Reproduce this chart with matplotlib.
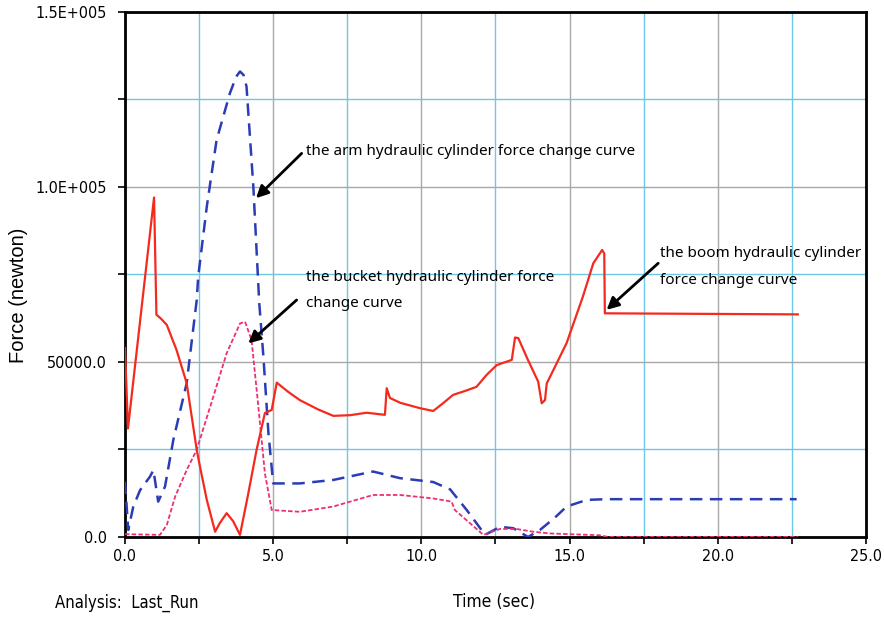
import matplotlib.pyplot as plt
from matplotlib.ticker import MultipleLocator, FixedLocator

# boom hydraulic cylinder (red, solid)
boom_t = [0.0, 0.1, 0.98, 1.06, 1.2, 1.41, 1.74, 2.08, 2.42, 2.53, 2.76, 3.04, 3.2,
          3.43, 3.65, 3.88, 4.15, 4.44, 4.72, 4.95, 5.12, 5.5, 5.9, 6.5, 7.03, 7.6,
          8.15, 8.77, 8.83, 8.94, 9.3, 9.95, 10.4, 10.7, 11.07, 11.5, 11.86, 12.2,
          12.54, 13.05, 13.16, 13.27, 13.6, 13.94, 14.06, 14.17, 14.23, 14.5, 14.9,
          15.45, 15.8, 16.1, 16.17, 16.19, 22.7]
boom_f = [54000, 31000, 97000, 63500, 62500, 60600, 53400, 44000, 24900, 20100, 10600,
          1500, 4000, 6800, 4500, 600, 12000, 24900, 35400, 36300, 44100, 41500,
          39100, 36500, 34600, 34800, 35500, 34900, 42500, 39700, 38300, 36800,
          36000, 38000, 40600, 41800, 42900, 46300, 49100, 50600, 57000, 56800,
          50500, 44400, 38200, 39100, 43900, 48500, 55400, 68700, 78200, 82000,
          81000, 63900, 63600]

# arm hydraulic cylinder (blue, dashed)
arm_t = [0.0, 0.11, 0.28, 0.51, 0.84, 0.96, 1.12, 1.35, 1.63, 2.08, 2.42, 2.47, 2.76,
         3.09, 3.54, 3.75, 3.88, 4.0, 4.1, 4.33, 4.53, 4.67, 4.84, 5.0, 5.9, 7.03,
         8.37, 9.28, 10.4, 10.97, 11.53, 12.15, 12.65, 13.1, 13.6, 14.0, 14.5, 14.9,
         15.58, 16.25, 22.66]
arm_f = [15800, 2000, 8700, 13400, 17200, 19100, 10100, 14400, 27700, 43900, 67700,
         74400, 94400, 113400, 126800, 131500, 133000, 132000, 128700, 100100, 66800,
         51500, 29600, 15300, 15300, 16300, 18700, 16800, 15700, 13600, 7700, 600,
         2900, 2500, 0, 2000, 5500, 8700, 10600, 10800, 10800]

# bucket hydraulic cylinder (pink, short dashes)
bucket_t = [0.0, 1.18, 1.41, 1.69, 2.08, 2.42, 2.98, 3.43, 3.88, 4.05, 4.27, 4.5,
            4.72, 4.95, 5.9, 7.03, 8.37, 9.28, 10.4, 11.02, 11.13, 12.09, 12.65,
            13.2, 13.77, 14.34, 16.0, 16.3, 22.7]
bucket_f = [800, 600, 3400, 11500, 19100, 24900, 40100, 52500, 61000, 61500, 56300,
            37200, 18200, 7700, 7200, 8700, 12000, 12000, 11000, 10100, 7700, 600,
            2300, 2300, 1500, 1000, 500, 0, 0]

x_labels = ['0.0', '5.0', '10.0', '15.0', '20.0', '25.0']
y_labels = ['0.0', '50000.0', '1.0E+005', '1.5E+005']

narrow = dict(family=['DejaVu Sans'], fontstretch='condensed')
note_font = ['Noto Sans', 'DejaVu Sans']

fig = plt.figure(figsize=(8.84, 6.17), dpi=100)
ax = fig.add_axes([0.1414, 0.1297, 0.8382, 0.8509])

ax.plot(boom_t, boom_f, color='#f52a1e', lw=1.6, zorder=4)
ax.plot(arm_t, arm_f, color='#2b3db5', lw=1.8, dashes=(5, 3), zorder=3)
ax.plot(bucket_t, bucket_f, color='#ec2f78', lw=1.3, dashes=(2.5, 1.2), zorder=3)

ax.set_xlim(0, 25)
ax.set_ylim(0, 150000)
ax.xaxis.set_major_locator(FixedLocator([0, 5, 10, 15, 20, 25]))
ax.xaxis.set_minor_locator(MultipleLocator(2.5))
ax.yaxis.set_major_locator(FixedLocator([0, 50000, 100000, 150000]))
ax.yaxis.set_minor_locator(MultipleLocator(25000))
ax.set_xticklabels(x_labels, fontsize=11.5, **narrow)
ax.set_yticklabels(y_labels, fontsize=11.5, **narrow)
ax.tick_params(which='both', direction='out', length=5, width=1.2, color='black')
ax.tick_params(axis='x', pad=4)
ax.tick_params(axis='y', pad=8)

ax.grid(which='major', color='#a8a8a8', lw=1.0)
ax.grid(which='minor', color='#6cc9e6', lw=1.0)
ax.set_axisbelow(True)
for s in ax.spines.values():
    s.set_linewidth(2)
    s.set_color('black')

ax.set_ylabel('Force (newton)', family=['Liberation Sans', 'DejaVu Sans'],
              fontsize=14.5)
ax.yaxis.set_label_coords(-0.131, 0.461)
fig.text(0.559, 0.0243, 'Time (sec)', fontsize=12.5, ha='center', va='center', **narrow)
fig.text(0.062, 0.0227, 'Analysis:  Last_Run', fontsize=12, ha='left', va='center',
         **narrow)

arrow = dict(arrowstyle='-|>', color='black', lw=2, mutation_scale=18,
             shrinkA=0, shrinkB=0)
ax.annotate('', xy=(4.42, 96800), xytext=(5.96, 109600), arrowprops=arrow)
ax.annotate('', xy=(4.16, 55300), xytext=(5.79, 67700), arrowprops=arrow)
ax.annotate('', xy=(16.25, 64900), xytext=(17.99, 78200), arrowprops=arrow)

ax.text(6.1, 110200, 'the arm hydraulic cylinder force change curve',
        family=note_font, fontsize=11, va='center', ha='left')
ax.text(6.1, 74100, 'the bucket hydraulic cylinder force',
        family=note_font, fontsize=11, va='center', ha='left')
ax.text(6.1, 66700, 'change curve',
        family=note_font, fontsize=11, va='center', ha='left')
ax.text(18.05, 81000, 'the boom hydraulic cylinder',
        family=note_font, fontsize=11, va='center', ha='left')
ax.text(18.05, 73400, 'force change curve',
        family=note_font, fontsize=11, va='center', ha='left')

fig.savefig('out.png', dpi=100)
